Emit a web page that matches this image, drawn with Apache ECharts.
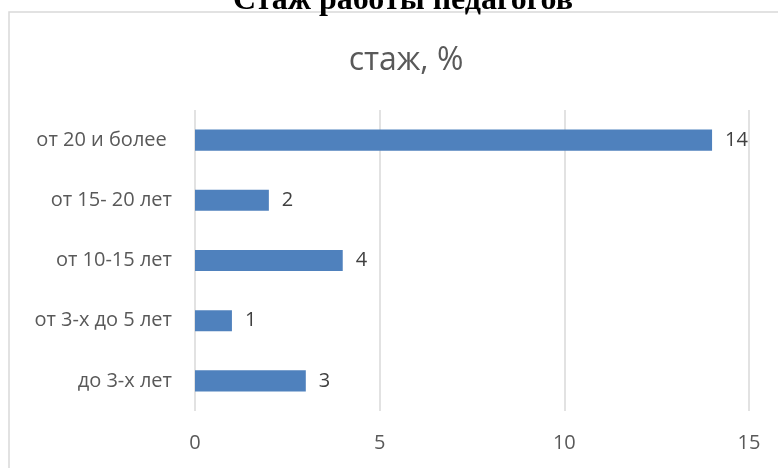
<!DOCTYPE html>
<html><head><meta charset="utf-8">
<script src="https://cdn.jsdelivr.net/npm/echarts@6/dist/echarts.min.js"></script>
<style>html,body{margin:0;padding:0;background:#fff;}#c{width:778px;height:468px;}</style>
</head><body><div id="c"></div>
<script>
const categories = ['до 3-х лет', 'от 3-х до 5 лет', 'от 10-15 лет', 'от 15- 20 лет', 'от 20 и более '];
const values = [3, 1, 4, 2, 14];
const xTicks = [0, 5, 10, 15];
const chart = echarts.init(document.getElementById('c'));
const sans = '"Open Sans", "Noto Sans", sans-serif';
chart.setOption({
  animation: false,
  backgroundColor: '#fff',
  graphic: [
    { type: 'rect', shape: { x: 9, y: 12, width: 800, height: 500 }, style: { fill: 'none', stroke: '#d9d9d9', lineWidth: 1.5 }, z: -1 },
    { type: 'text', x: 403, y: -15, style: { text: 'Стаж работы педагогов', align: 'center', font: 'bold 32px "Liberation Serif", serif', fill: '#000' } }
  ],
  title: { text: 'стаж, %', left: 401, textAlign: 'center', top: 40, textStyle: { fontFamily: sans, fontWeight: 'normal', fontSize: 32, color: '#595959' } },
  grid: { left: 195, right: 29, top: 110, bottom: 57 },
  xAxis: {
    type: 'value', min: xTicks[0], max: xTicks[xTicks.length - 1], interval: 5,
    axisLine: { show: false }, axisTick: { show: false },
    splitLine: { lineStyle: { color: '#d9d9d9', width: 1.5 } },
    axisLabel: { fontFamily: sans, fontSize: 20, color: '#595959', margin: 22 }
  },
  yAxis: {
    type: 'category', data: categories,
    axisLine: { show: false }, axisTick: { show: false },
    axisLabel: { fontFamily: sans, fontSize: 20, color: '#595959', margin: 23 }
  },
  series: [{
    type: 'bar', data: values, barCategoryGap: '65%',
    itemStyle: { color: '#4f81bd' },
    label: { show: true, position: 'right', distance: 13, fontFamily: sans, fontSize: 20, color: '#404040' }
  }]
});
</script></body></html>
